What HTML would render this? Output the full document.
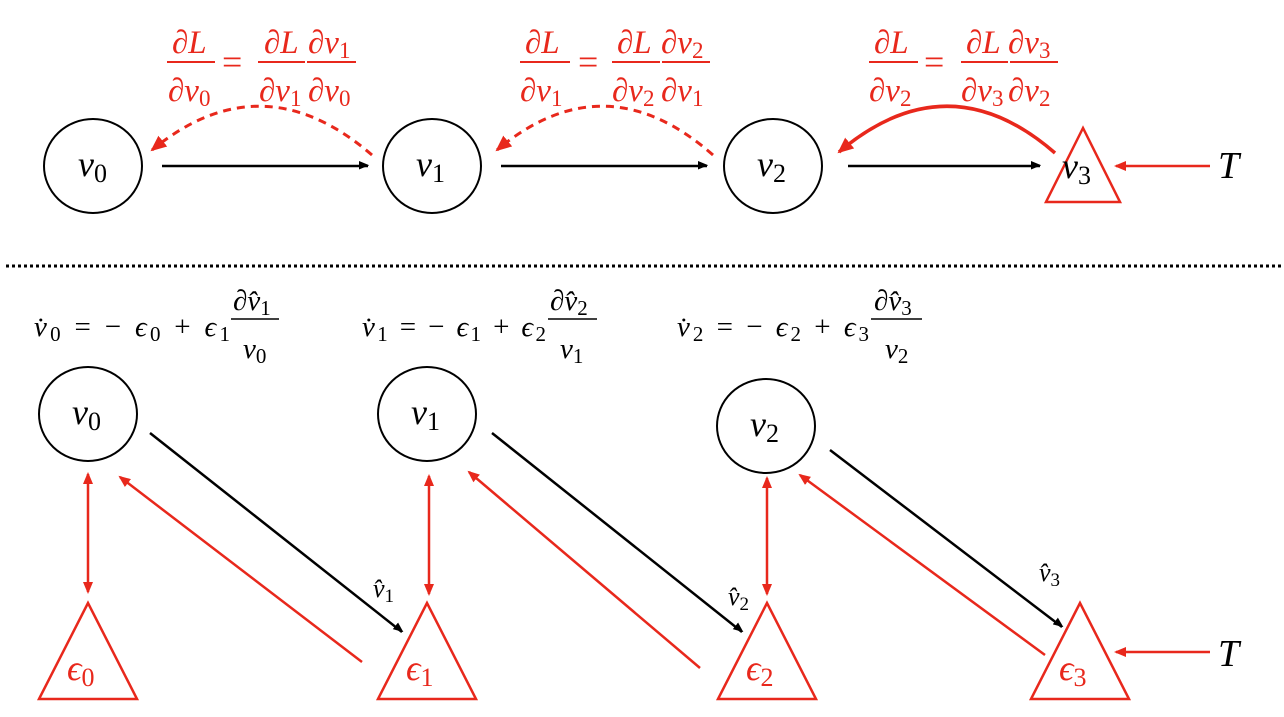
<!DOCTYPE html>
<html><head><meta charset="utf-8"><style>
html,body{margin:0;padding:0;background:#fff;width:1284px;height:717px;overflow:hidden}
svg{display:block}
text{font-family:"Liberation Serif",serif}
.i{font-style:italic}
.r{fill:#e8281c}
</style></head><body>
<svg width="1284" height="717" viewBox="0 0 1284 717" xmlns="http://www.w3.org/2000/svg">
<defs>
<marker id="ab" markerWidth="10" markerHeight="10" refX="9" refY="5" orient="auto" markerUnits="userSpaceOnUse"><path d="M0,0 L12,5 L0,10 z" fill="#000" transform="scale(0.85)"/></marker>
<marker id="ar" markerWidth="12" markerHeight="12" refX="10" refY="6" orient="auto-start-reverse" markerUnits="userSpaceOnUse"><path d="M0,1 L12,6 L0,11 z" fill="#e8281c"/></marker>
<marker id="arb" markerWidth="16" markerHeight="16" refX="14" refY="8" orient="auto" markerUnits="userSpaceOnUse"><path d="M0,1 L16,8 L0,15 z" fill="#e8281c"/></marker>
</defs>

<!-- TOP ROW -->
<g fill="none" stroke="#000" stroke-width="2">
<ellipse cx="93" cy="166" rx="49" ry="47"/>
<ellipse cx="432" cy="166" rx="49" ry="47"/>
<ellipse cx="773" cy="166" rx="49" ry="47"/>
</g>
<polygon points="1083,128 1046,202 1120,202" fill="none" stroke="#e8281c" stroke-width="2.5"/>
<text x="78" y="176" font-size="36"><tspan class="i">v</tspan><tspan font-size="26" dy="6">0</tspan></text>
<text x="416" y="176" font-size="36"><tspan class="i">v</tspan><tspan font-size="26" dy="6">1</tspan></text>
<text x="757" y="176" font-size="36"><tspan class="i">v</tspan><tspan font-size="26" dy="6">2</tspan></text>
<text x="1062" y="178" font-size="36"><tspan class="i">v</tspan><tspan font-size="26" dy="6">3</tspan></text>
<text x="1218" y="178" font-size="38" class="i">T</text>

<g stroke="#000" stroke-width="2.5" marker-end="url(#ab)">
<line x1="162" y1="166" x2="368" y2="166"/>
<line x1="501" y1="166" x2="707" y2="166"/>
<line x1="848" y1="166" x2="1040" y2="166"/>
</g>
<line x1="1210" y1="166" x2="1116" y2="166" stroke="#e8281c" stroke-width="2.5" marker-end="url(#ar)"/>
<path d="M372,155 Q262,60 152,150" fill="none" stroke="#e8281c" stroke-width="3" stroke-dasharray="8,6" marker-end="url(#arb)"/>
<path d="M713,155 Q605,60 497,150" fill="none" stroke="#e8281c" stroke-width="3" stroke-dasharray="8,6" marker-end="url(#arb)"/>
<path d="M1055,153 Q948,60 839,152" fill="none" stroke="#e8281c" stroke-width="3.5" marker-end="url(#arb)"/>

<!-- fractions top -->
<g class="r" font-size="33">
<text x="172" y="53"><tspan class="i">∂L</tspan></text>
<text x="168" y="101"><tspan class="i">∂v</tspan><tspan font-size="23" dy="5">0</tspan></text>
<text x="222" y="74" font-size="36">=</text>
<text x="264" y="53"><tspan class="i">∂L</tspan></text>
<text x="259" y="101"><tspan class="i">∂v</tspan><tspan font-size="23" dy="5">1</tspan></text>
<text x="308" y="53"><tspan class="i">∂v</tspan><tspan font-size="23" dy="5">1</tspan></text>
<text x="308" y="101"><tspan class="i">∂v</tspan><tspan font-size="23" dy="5">0</tspan></text>

<text x="525" y="53"><tspan class="i">∂L</tspan></text>
<text x="520" y="101"><tspan class="i">∂v</tspan><tspan font-size="23" dy="5">1</tspan></text>
<text x="578" y="74" font-size="36">=</text>
<text x="617" y="53"><tspan class="i">∂L</tspan></text>
<text x="612" y="101"><tspan class="i">∂v</tspan><tspan font-size="23" dy="5">2</tspan></text>
<text x="661" y="53"><tspan class="i">∂v</tspan><tspan font-size="23" dy="5">2</tspan></text>
<text x="661" y="101"><tspan class="i">∂v</tspan><tspan font-size="23" dy="5">1</tspan></text>

<text x="874" y="53"><tspan class="i">∂L</tspan></text>
<text x="869" y="101"><tspan class="i">∂v</tspan><tspan font-size="23" dy="5">2</tspan></text>
<text x="924" y="74" font-size="36">=</text>
<text x="966" y="53"><tspan class="i">∂L</tspan></text>
<text x="961" y="101"><tspan class="i">∂v</tspan><tspan font-size="23" dy="5">3</tspan></text>
<text x="1008" y="53"><tspan class="i">∂v</tspan><tspan font-size="23" dy="5">3</tspan></text>
<text x="1008" y="101"><tspan class="i">∂v</tspan><tspan font-size="23" dy="5">2</tspan></text>
</g>
<g stroke="#e8281c" stroke-width="2">
<line x1="167" y1="62" x2="215" y2="62"/><line x1="258" y1="62" x2="305" y2="62"/><line x1="307" y1="62" x2="356" y2="62"/>
<line x1="520" y1="62" x2="570" y2="62"/><line x1="612" y1="62" x2="660" y2="62"/><line x1="662" y1="62" x2="710" y2="62"/>
<line x1="869" y1="62" x2="918" y2="62"/><line x1="961" y1="62" x2="1008" y2="62"/><line x1="1010" y1="62" x2="1058" y2="62"/>
</g>

<!-- divider -->
<line x1="6" y1="266" x2="1284" y2="266" stroke="#000" stroke-width="3" stroke-dasharray="3,3"/>

<!-- equations -->
<g font-size="29">
<text x="34" y="336" textLength="196" lengthAdjust="spacing"><tspan class="i">v̇</tspan><tspan font-size="21" dy="5">0</tspan><tspan dy="-5"> = − </tspan><tspan class="i">ϵ</tspan><tspan font-size="21" dy="5">0</tspan><tspan dy="-5"> + </tspan><tspan class="i">ϵ</tspan><tspan font-size="21" dy="5">1</tspan></text>
<text x="233" y="310"><tspan class="i">∂v̂</tspan><tspan font-size="21" dy="5">1</tspan></text>
<text x="243" y="358"><tspan class="i">v</tspan><tspan font-size="21" dy="5">0</tspan></text>
<line x1="231" y1="319" x2="279" y2="319" stroke="#000" stroke-width="1.5"/>

<text x="362" y="336" textLength="184" lengthAdjust="spacing"><tspan class="i">v̇</tspan><tspan font-size="21" dy="5">1</tspan><tspan dy="-5"> = − </tspan><tspan class="i">ϵ</tspan><tspan font-size="21" dy="5">1</tspan><tspan dy="-5"> + </tspan><tspan class="i">ϵ</tspan><tspan font-size="21" dy="5">2</tspan></text>
<text x="550" y="310"><tspan class="i">∂v̂</tspan><tspan font-size="21" dy="5">2</tspan></text>
<text x="560" y="358"><tspan class="i">v</tspan><tspan font-size="21" dy="5">1</tspan></text>
<line x1="548" y1="319" x2="597" y2="319" stroke="#000" stroke-width="1.5"/>

<text x="677" y="336" textLength="192" lengthAdjust="spacing"><tspan class="i">v̇</tspan><tspan font-size="21" dy="5">2</tspan><tspan dy="-5"> = − </tspan><tspan class="i">ϵ</tspan><tspan font-size="21" dy="5">2</tspan><tspan dy="-5"> + </tspan><tspan class="i">ϵ</tspan><tspan font-size="21" dy="5">3</tspan></text>
<text x="874" y="310"><tspan class="i">∂v̂</tspan><tspan font-size="21" dy="5">3</tspan></text>
<text x="885" y="358"><tspan class="i">v</tspan><tspan font-size="21" dy="5">2</tspan></text>
<line x1="871" y1="319" x2="922" y2="319" stroke="#000" stroke-width="1.5"/>
</g>

<!-- bottom nodes -->
<g fill="none" stroke="#000" stroke-width="2">
<ellipse cx="88" cy="414" rx="49" ry="47"/>
<ellipse cx="427" cy="414" rx="49" ry="47"/>
<ellipse cx="766" cy="426" rx="49" ry="47"/>
</g>
<text x="72" y="424" font-size="36"><tspan class="i">v</tspan><tspan font-size="26" dy="6">0</tspan></text>
<text x="411" y="424" font-size="36"><tspan class="i">v</tspan><tspan font-size="26" dy="6">1</tspan></text>
<text x="750" y="436" font-size="36"><tspan class="i">v</tspan><tspan font-size="26" dy="6">2</tspan></text>

<g fill="none" stroke="#e8281c" stroke-width="2.5">
<polygon points="88,603 39,699 137,699"/>
<polygon points="427,603 378,699 476,699"/>
<polygon points="767,603 718,699 816,699"/>
<polygon points="1080,603 1031,699 1129,699"/>
</g>
<g class="r" font-size="36">
<text x="67" y="680"><tspan class="i">ϵ</tspan><tspan font-size="26" dy="6">0</tspan></text>
<text x="406" y="680"><tspan class="i">ϵ</tspan><tspan font-size="26" dy="6">1</tspan></text>
<text x="746" y="680"><tspan class="i">ϵ</tspan><tspan font-size="26" dy="6">2</tspan></text>
<text x="1059" y="680"><tspan class="i">ϵ</tspan><tspan font-size="26" dy="6">3</tspan></text>
</g>
<text x="1218" y="666" font-size="38" class="i">T</text>
<line x1="1210" y1="652" x2="1116" y2="652" stroke="#e8281c" stroke-width="2.5" marker-end="url(#ar)"/>

<g stroke="#e8281c" stroke-width="2.5" marker-start="url(#ar)" marker-end="url(#ar)">
<line x1="88" y1="474" x2="88" y2="592"/>
<line x1="429" y1="476" x2="429" y2="594"/>
<line x1="767" y1="478" x2="767" y2="594"/>
</g>
<g stroke="#000" stroke-width="2.5" marker-end="url(#ab)">
<line x1="150" y1="433" x2="402" y2="632"/>
<line x1="492" y1="433" x2="742" y2="632"/>
<line x1="830" y1="450" x2="1062" y2="627"/>
</g>
<g stroke="#e8281c" stroke-width="2.5" marker-end="url(#ar)">
<line x1="362" y1="662" x2="120" y2="477"/>
<line x1="700" y1="668" x2="469" y2="472"/>
<line x1="1045" y1="655" x2="800" y2="475"/>
</g>
<g font-size="26">
<text x="373" y="597"><tspan class="i">v̂</tspan><tspan font-size="19" dy="5">1</tspan></text>
<text x="728" y="605"><tspan class="i">v̂</tspan><tspan font-size="19" dy="5">2</tspan></text>
<text x="1039" y="581"><tspan class="i">v̂</tspan><tspan font-size="19" dy="5">3</tspan></text>
</g>
</svg>
</body></html>
